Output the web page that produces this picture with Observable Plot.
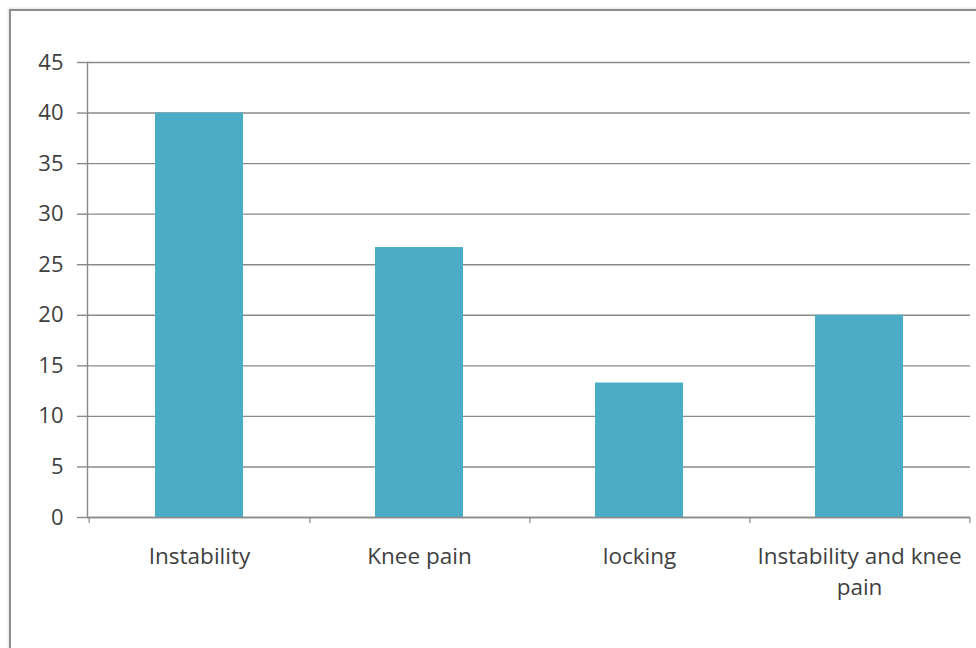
<!DOCTYPE html>
<html>
<head>
<meta charset="utf-8">
<script src="https://cdn.jsdelivr.net/npm/d3@7"></script>
<script src="https://cdn.jsdelivr.net/npm/@observablehq/plot@0.6"></script>
<style>
  html, body { margin: 0; padding: 0; background: #fff; }
  #wrap { position: relative; width: 976px; height: 648px; overflow: hidden; }
  #border {
    position: absolute; left: 9px; top: 9px; width: 990px; height: 660px;
    border-left: 2px solid #8e8e8e; border-top: 2px solid #8e8e8e;
    box-shadow: -1px -1px 2px rgba(0,0,0,0.12);
  }
  #chart { position: absolute; left: 0; top: 0; }
</style>
</head>
<body>
<div id="wrap">
  <div id="border"></div>
  <div id="chart"></div>
</div>
<script>
// Presenting complaints (%)
const categories = ["Instability", "Knee pain", "locking", "Instability and knee pain"];
const values = [40, 26.7, 13.3, 20];
const categoryLabels = ["Instability", "Knee pain", "locking", "Instability and knee\npain"];
const yTicks = [0, 5, 10, 15, 20, 25, 30, 35, 40, 45];

const data = categories.map((c, i) => ({category: c, value: values[i]}));
const labelOf = new Map(categories.map((c, i) => [c, categoryLabels[i]]));

const W = 976, H = 648;
const mL = 87, mR = 6, mT = 62, mB = 131;
const step = (W - mL - mR) / categories.length;

const font = "'Open Sans', sans-serif";
const textColor = "#3f3f3f";
const gridColor = "#8a8a8a";

// short tick marks at the category boundaries, hanging below the baseline
const boundaryTick = (cats, dx) => Plot.ruleX(cats, {
  x: d => d, dx, y1: 0, y2: 0, insetTop: 0, insetBottom: -6,
  stroke: gridColor, strokeWidth: 1.2
});

const chart = Plot.plot({
  width: W,
  height: H,
  marginLeft: mL,
  marginRight: mR,
  marginTop: mT,
  marginBottom: mB,
  style: {fontFamily: font, fontSize: "22px", color: textColor, background: "transparent"},
  x: {domain: categories, paddingInner: 0.6, paddingOuter: 0.3, label: null},
  y: {domain: [0, 45], label: null},
  marks: [
    Plot.gridY(yTicks, {stroke: gridColor, strokeOpacity: 1, strokeWidth: 1.4}),
    Plot.barY(data, {x: "category", y: "value", fill: "#4bacc6"}),
    Plot.frame({anchor: "left", stroke: gridColor, strokeWidth: 1.4}),
    Plot.ruleY([0], {stroke: gridColor, strokeWidth: 1.4}),
    Plot.axisY({ticks: yTicks, tickSize: 10, tickPadding: 14, stroke: gridColor, strokeWidth: 1.4, fontSize: 22, fill: textColor}),
    boundaryTick(categories, step / 2),
    boundaryTick(categories.slice(0, 1), -step / 2),
    Plot.axisX({
      tickSize: 0, tickPadding: 24, fontSize: 22.5, fill: textColor, lineHeight: 1.4,
      tickFormat: d => labelOf.get(d)
    })
  ]
});

document.getElementById("chart").appendChild(chart);
</script>
</body>
</html>
